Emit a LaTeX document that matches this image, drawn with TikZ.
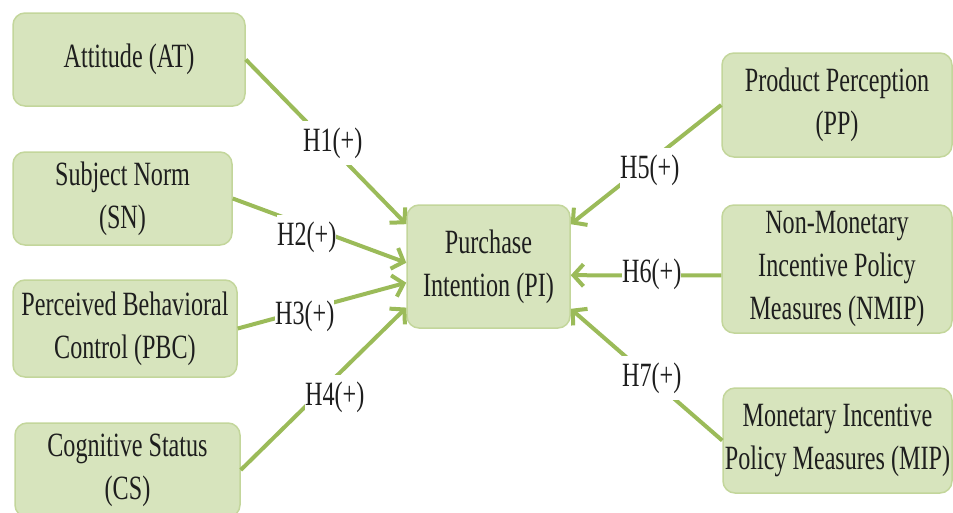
\documentclass[tikz,border=0pt]{standalone}
\usepackage{fontspec}
\setmainfont{Liberation Serif}[FakeStretch=0.71]
\usetikzlibrary{arrows.meta,calc}

\definecolor{boxfill}{HTML}{D7E4BD}
\definecolor{boxedge}{HTML}{C3D69B}
\definecolor{linkgreen}{HTML}{9BBB59}
\definecolor{inkdark}{HTML}{1E1E1E}

\tikzset{
  construct/.style={draw=boxedge, line width=1.5pt, fill=boxfill,
    rounded corners=12pt, align=center, text=inkdark, inner sep=0pt,
    font=\fontsize{34}{43}\selectfont},
  hyp/.style={fill=white, text=inkdark, anchor=west, inner xsep=0pt,
    inner ysep=7pt, font=\fontsize{34}{43}\selectfont},
  link/.style={draw=linkgreen, line width=4pt},
  linkarrow/.style={link, -{Straight Barb[length=10pt,width=22pt]}}
}

\begin{document}
\begin{tikzpicture}[x=1pt,y=-1pt]
\useasboundingbox (0,0) rectangle (953,512);

% constructs on the left
\node[construct, minimum width=232pt, minimum height=93pt] (AT) at (129,59.5) {Attitude (AT)};
\node[construct, minimum width=219pt, minimum height=93pt] (SN) at (122.5,198.5) {Subject Norm\\(SN)};
\node[construct, minimum width=224pt, minimum height=97pt] (PBC) at (125,328.5) {Perceived Behavioral\\Control (PBC)};
\node[construct, minimum width=225pt, minimum height=94pt] (CS) at (127.5,470) {Cognitive Status\\(CS)};

% outcome
\node[construct, minimum width=163pt, minimum height=123pt] (PI) at (488.5,266.5) {Purchase\\Intention (PI)};

% constructs on the right
\node[construct, minimum width=230pt, minimum height=104pt] (PP) at (837,105) {Product Perception\\(PP)};
\node[construct, minimum width=230pt, minimum height=128pt] (NMIP) at (837,269) {Non-Monetary\\Incentive Policy\\Measures (NMIP)};
\node[construct, minimum width=229pt, minimum height=105pt] (MIP) at (837.5,440.5) {Monetary Incentive\\Policy Measures (MIP)};

% arrow endpoints on the sides of PI
\coordinate (pi-w1) at ($(PI.north west)!0.16!(PI.south west)$);
\coordinate (pi-w2) at ($(PI.north west)!0.47!(PI.south west)$);
\coordinate (pi-w3) at ($(PI.north west)!0.63!(PI.south west)$);
\coordinate (pi-w4) at ($(PI.north west)!0.83!(PI.south west)$);
\coordinate (pi-e5) at ($(PI.north east)!0.16!(PI.south east)$);
\coordinate (pi-e6) at ($(PI.north east)!0.57!(PI.south east)$);
\coordinate (pi-e7) at ($(PI.north east)!0.84!(PI.south east)$);
\coordinate (nmip-w) at ($(NMIP.north west)!0.55!(NMIP.south west)$);

% hypothesis paths
\draw[linkarrow] (AT.east) -- (pi-w1);
\draw[linkarrow] (SN.east) -- (pi-w2);
\draw[linkarrow] (PBC.east) -- (pi-w3);
\draw[linkarrow] (CS.east) -- (pi-w4);
\draw[linkarrow] (PP.west) -- (pi-e5);
\draw[linkarrow] (nmip-w) -- (pi-e6);
\draw[linkarrow] (MIP.west) -- (pi-e7);

% hypothesis labels
\node[hyp] (H1) at (303,143) {H1(+)\hspace{9pt}};
\node[hyp] (H2) at (277,237) {H2(+)\hspace{9pt}};
\node[hyp] (H3) at (275,316) {H3(+)\hspace{9pt}};
\node[hyp] (H4) at (305,397) {H4(+)\hspace{9pt}};
\node[hyp] (H5) at (620,170) {H5(+)\hspace{9pt}};
\node[hyp] (H6) at (622,274) {H6(+)\hspace{9pt}};
\node[hyp] (H7) at (622,378) {H7(+)\hspace{9pt}};
\end{tikzpicture}
\end{document}
